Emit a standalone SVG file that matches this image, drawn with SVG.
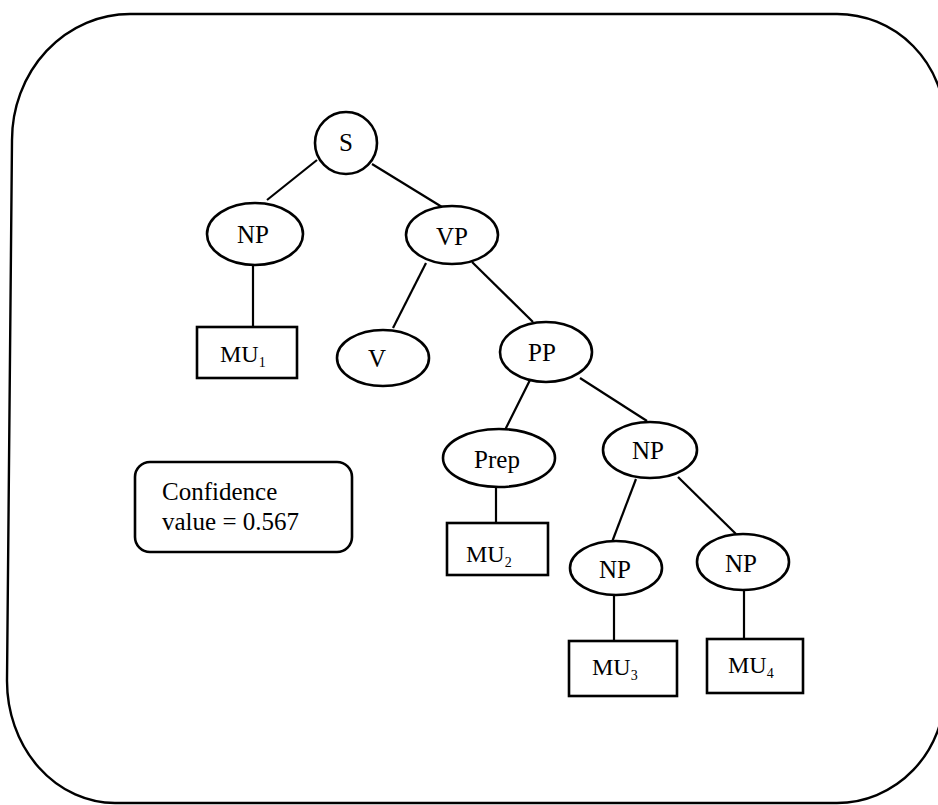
<svg xmlns="http://www.w3.org/2000/svg" width="938" height="805" viewBox="0 0 938 805">
<style>
.frame{fill:none;stroke:#000;stroke-width:2.4}
.n{fill:#fff;stroke:#000;stroke-width:2.6}
.e line{stroke:#000;stroke-width:2.2}
.t{font-family:"Liberation Serif","Times New Roman",serif;font-size:25px;fill:#000;text-anchor:middle}
.mu{font-family:"Liberation Serif","Times New Roman",serif;font-size:24px;fill:#000}
.sub{font-size:14px}
.c{font-family:"Liberation Serif","Times New Roman",serif;font-size:25px;fill:#000}
</style>
<rect width="938" height="805" fill="#fff"/>
<path class="frame" d="M130,14 L837,14 A108 110 0 0 1 945,124 L945,690 A108 113 0 0 1 837,803 L115,803 A108 122 0 0 1 7,681 L12,140 A118 126 0 0 1 130,14 Z"/>
<g id="edges" class="e">
<line x1="317" y1="160" x2="267" y2="200"/>
<line x1="372" y1="164" x2="442" y2="207"/>
<line x1="253" y1="265" x2="253" y2="327"/>
<line x1="426" y1="263" x2="393" y2="328"/>
<line x1="472" y1="262" x2="533" y2="322"/>
<line x1="530" y1="380" x2="505" y2="430"/>
<line x1="580" y1="378" x2="647" y2="421"/>
<line x1="496" y1="487" x2="496" y2="523"/>
<line x1="636" y1="479" x2="612" y2="542"/>
<line x1="678" y1="477" x2="736" y2="534"/>
<line x1="614" y1="595" x2="614" y2="641"/>
<line x1="744" y1="590" x2="744" y2="639"/>
</g>
<g id="S"><circle class="n" cx="346" cy="143" r="31"/><text class="t" x="346" y="151">S</text></g>
<g id="NP1"><ellipse class="n" cx="255" cy="234" rx="48" ry="31"/><text class="t" x="253" y="243">NP</text></g>
<g id="VP"><ellipse class="n" cx="452" cy="235" rx="46" ry="29"/><text class="t" x="452" y="245">VP</text></g>
<g id="MU1"><rect class="n" x="197" y="327" width="100" height="51"/><text class="mu" x="220" y="362">MU<tspan class="sub" dy="5">1</tspan></text></g>
<g id="V"><ellipse class="n" cx="383" cy="358" rx="46" ry="28"/><text class="t" x="377" y="367">V</text></g>
<g id="PP"><ellipse class="n" cx="546" cy="352" rx="46" ry="30"/><text class="t" x="542" y="361">PP</text></g>
<g id="Prep"><ellipse class="n" cx="499" cy="458" rx="56" ry="29"/><text class="t" x="497" y="468">Prep</text></g>
<g id="NP2"><ellipse class="n" cx="650" cy="450" rx="47" ry="28"/><text class="t" x="648" y="459">NP</text></g>
<g id="MU2"><rect class="n" x="447" y="523" width="101" height="52"/><text class="mu" x="466" y="562">MU<tspan class="sub" dy="5">2</tspan></text></g>
<g id="NP3"><ellipse class="n" cx="616" cy="568" rx="46" ry="27"/><text class="t" x="615" y="578">NP</text></g>
<g id="NP4"><ellipse class="n" cx="743" cy="562" rx="46" ry="28"/><text class="t" x="741" y="572">NP</text></g>
<g id="MU3"><rect class="n" x="569" y="641" width="108" height="55"/><text class="mu" x="592" y="675">MU<tspan class="sub" dy="5">3</tspan></text></g>
<g id="MU4"><rect class="n" x="707" y="639" width="96" height="54"/><text class="mu" x="728" y="673">MU<tspan class="sub" dy="5">4</tspan></text></g>
<g id="confidence"><rect class="n" x="135" y="462" width="217" height="90" rx="15"/><text class="c" x="162" y="500">Confidence</text><text class="c" x="162" y="530">value = 0.567</text></g>
</svg>
